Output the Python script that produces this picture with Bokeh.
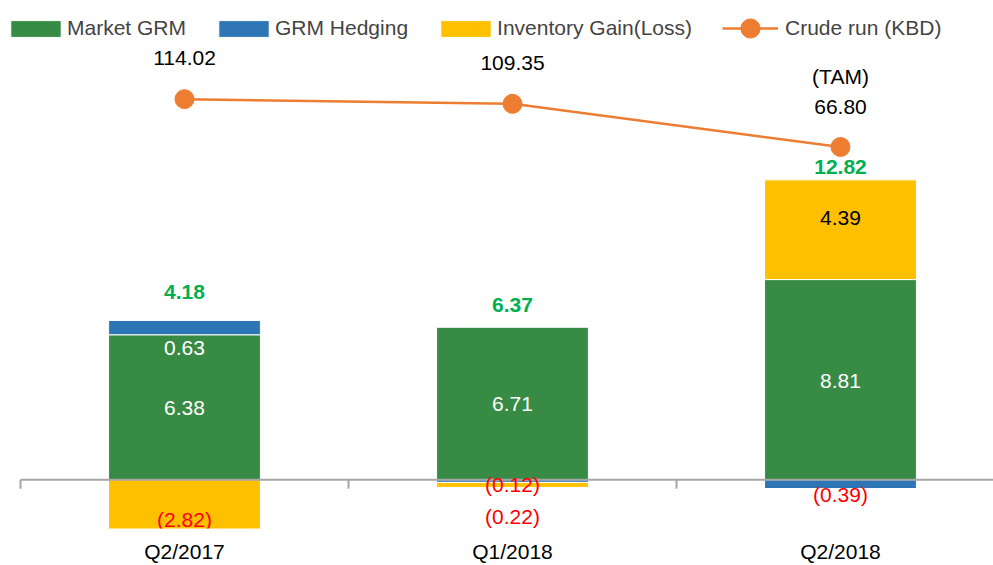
from bokeh.plotting import figure
from bokeh.models import Range1d, Legend, LegendItem, FixedTicker, CustomJSTickFormatter
from bokeh.embed import file_html
from bokeh.resources import INLINE
from bokeh.core.properties import value

# ---------------- data ----------------
quarters = ["Q2/2017", "Q1/2018", "Q2/2018"]
market_grm = [6.38, 6.71, 8.81]
grm_hedging = [0.63, -0.12, -0.39]
inventory_gain = [-2.82, -0.22, 4.39]
total_grm = [4.18, 6.37, 12.82]
crude_run = [114.02, 109.35, 66.80]
crude_note = ["", "", "(TAM)"]

# ---------------- layout / style ----------------
W, H = 993, 565
FONT = "Liberation Sans"
FS = "21px"
GREEN = "#378B44"
BLUE = "#2E75B6"
YELLOW = "#FFC000"
ORANGE = "#ED7D31"
TOTAL_GREEN = "#00B050"
RED = "#FF0000"
AXIS_GRAY = "#A6A6A6"

CAT_PX = 328.0       # pixel width of one category
LEFT_PX = 20.0       # frame offset of first category boundary
PX_PER_UNIT = 22.8   # primary axis scale
ZERO_PX = 481.0      # y pixel of zero line
FRAME_BOTTOM = 530.0
PX_PER_KBD = 1.017
CRUDE_REF_PX = 99.0

n = len(quarters)
xc = [i + 0.5 for i in range(n)]

y_lo = -(FRAME_BOTTOM - ZERO_PX) / PX_PER_UNIT
y_hi = ZERO_PX / PX_PER_UNIT
c_hi = crude_run[0] + CRUDE_REF_PX / PX_PER_KBD
c_lo = crude_run[0] - (FRAME_BOTTOM - CRUDE_REF_PX) / PX_PER_KBD

p = figure(width=W, height=H, output_backend="svg", toolbar_location=None,
           x_range=Range1d(-LEFT_PX / CAT_PX, (W - LEFT_PX) / CAT_PX),
           y_range=Range1d(y_lo, y_hi), y_axis_location=None,
           min_border_left=0, min_border_right=0, min_border_top=0,
           min_border_bottom=int(H - FRAME_BOTTOM))
p.extra_y_ranges = {"crude": Range1d(c_lo, c_hi)}
p.outline_line_color = None
p.grid.visible = False
p.background_fill_color = "white"
p.border_fill_color = "white"

# category axis labels
xa = p.xaxis[0]
xa.ticker = FixedTicker(ticks=xc)
xa.formatter = CustomJSTickFormatter(args=dict(labels=quarters),
                                     code="return labels[Math.floor(tick)];")
xa.axis_line_color = None
xa.major_tick_line_color = None
xa.minor_tick_line_color = None
xa.major_tick_out = 0
xa.major_tick_in = 0
xa.minor_tick_out = 0
xa.minor_tick_in = 0
xa.major_label_standoff = 11
xa.major_label_text_font = FONT
xa.major_label_text_font_size = FS
xa.major_label_text_color = "black"

# ---------------- stacked bars ----------------
pos = [0.0] * n
neg = [0.0] * n
stacks = {}
for key, vals in [("market", market_grm), ("hedging", grm_hedging), ("inventory", inventory_gain)]:
    bots, tops = [], []
    for i, v in enumerate(vals):
        if v >= 0:
            b = pos[i]; t = b + v; pos[i] = t
        else:
            b = neg[i]; t = b + v; neg[i] = t
        bots.append(b); tops.append(t)
    stacks[key] = (bots, tops)

BAR_W = 0.463
colors = {"market": GREEN, "hedging": BLUE, "inventory": YELLOW}
rends = {}
for key in ["market", "hedging", "inventory"]:
    b, t = stacks[key]
    rends[key] = p.vbar(x=xc, width=BAR_W, bottom=b, top=t, fill_color=colors[key],
                        line_color="white", line_width=1)

# horizontal axis line at zero and category-boundary ticks
bounds = list(range(n + 1))
p.segment(x0=[bounds[0]], y0=[0], x1=[bounds[-1]], y1=[0], line_color=AXIS_GRAY, line_width=2)
tick_len = 9 / PX_PER_UNIT
p.segment(x0=bounds, y0=[0] * len(bounds), x1=bounds, y1=[-tick_len] * len(bounds),
          line_color=AXIS_GRAY, line_width=2)

# ---------------- crude run line ----------------
r_line = p.line(xc, crude_run, y_range_name="crude", line_color=ORANGE, line_width=2.5)
r_pts = p.scatter(xc, crude_run, y_range_name="crude", size=19, fill_color=ORANGE,
                  line_color=ORANGE, marker="circle")

# ---------------- labels ----------------
def fmt(v):
    return f"({abs(v):.2f})" if v < 0 else f"{v:.2f}"

def mid(key):
    b, t = stacks[key]
    return [(bb + tt) / 2 for bb, tt in zip(b, t)]

common = dict(text_font=value(FONT), text_font_size=FS, text_align="center",
              text_baseline="middle")

p.text(x=xc, y=mid("market"), text=[fmt(v) for v in market_grm],
       text_color="white", y_offset=[1] * n, **common)
p.text(x=xc, y=mid("hedging"), text=[fmt(v) for v in grm_hedging],
       text_color=[RED if v < 0 else "white" for v in grm_hedging],
       y_offset=[20, 3, 10], **common)
p.text(x=xc, y=mid("inventory"), text=[fmt(v) for v in inventory_gain],
       text_color=[RED if v < 0 else "black" for v in inventory_gain],
       y_offset=[8, 32, -12], **common)
p.text(x=xc, y=pos, text=[fmt(v) for v in total_grm], text_color=TOTAL_GREEN,
       text_font_style="bold", y_offset=[-28, -22, -13], **common)
p.text(x=xc, y=crude_run, text=[f"{v:.2f}" for v in crude_run], y_range_name="crude",
       text_color="black", y_offset=[-41, -41, -40], **common)
p.text(x=xc, y=crude_run, text=crude_note, y_range_name="crude",
       text_color="black", y_offset=[-70] * n, **common)

# ---------------- legends ----------------
leg_style = dict(orientation="horizontal", padding=0, margin=0,
                 label_text_font=FONT, label_text_font_size=FS,
                 border_line_alpha=0, background_fill_alpha=0)
legend_bars = Legend(items=[
    LegendItem(label="Market GRM", renderers=[rends["market"]]),
    LegendItem(label="GRM Hedging", renderers=[rends["hedging"]]),
    LegendItem(label="Inventory Gain(Loss)", renderers=[rends["inventory"]]),
], location=(4, int(FRAME_BOTTOM - 42)), spacing=26, glyph_width=63, glyph_height=21,
    label_standoff=0, **leg_style)
legend_line = Legend(items=[
    LegendItem(label="Crude run (KBD)", renderers=[r_line, r_pts]),
], location=(722, int(FRAME_BOTTOM - 54)), glyph_width=56, glyph_height=48,
    label_standoff=7, **leg_style)
p.add_layout(legend_bars)
p.add_layout(legend_line)

open("out.html", "w").write(file_html(p, INLINE))
